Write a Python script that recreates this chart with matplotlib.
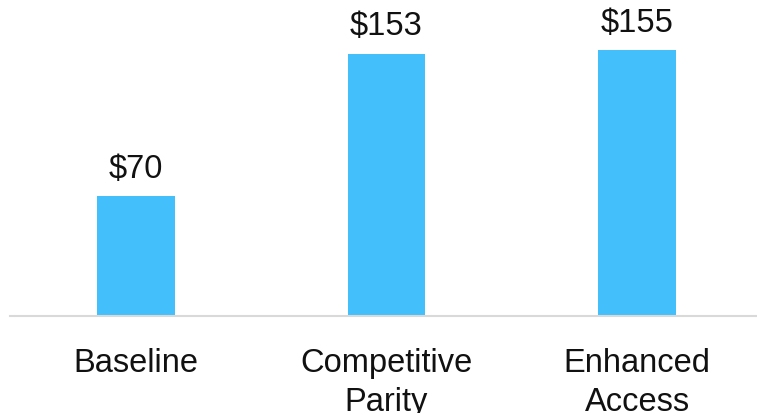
import matplotlib.pyplot as plt

categories = ["Baseline", "Competitive\nParity", "Enhanced\nAccess"]
values = [70, 153, 155]
value_labels = ["$70", "$153", "$155"]

plt.rcParams["font.family"] = ["Liberation Sans", "DejaVu Sans"]

fig = plt.figure(figsize=(7.57, 4.14), dpi=100)
ax = fig.add_axes([10 / 757, 97 / 414, 747 / 757, 317 / 414])

x = list(range(len(values)))
ax.bar(x, values, width=0.31, color="#43bffb")

for xi, v, lab in zip(x, values, value_labels):
    ax.annotate(lab, (xi, v), xytext=(0, 9), textcoords="offset points",
                ha="center", va="bottom", fontsize=23.5, color="#111111")

ax.set_xlim(-0.503, 2.479)
ax.set_ylim(0, 185)
ax.set_xticks(x)
ax.set_xticklabels(categories, fontsize=23.5, color="#111111", linespacing=1.35)
ax.tick_params(axis="x", length=0, pad=22)
ax.set_yticks([])

for side in ["top", "right", "left"]:
    ax.spines[side].set_visible(False)
ax.spines["bottom"].set_color("#d9d9d9")
ax.spines["bottom"].set_linewidth(1.5)

fig.savefig("out.png", dpi=100)
